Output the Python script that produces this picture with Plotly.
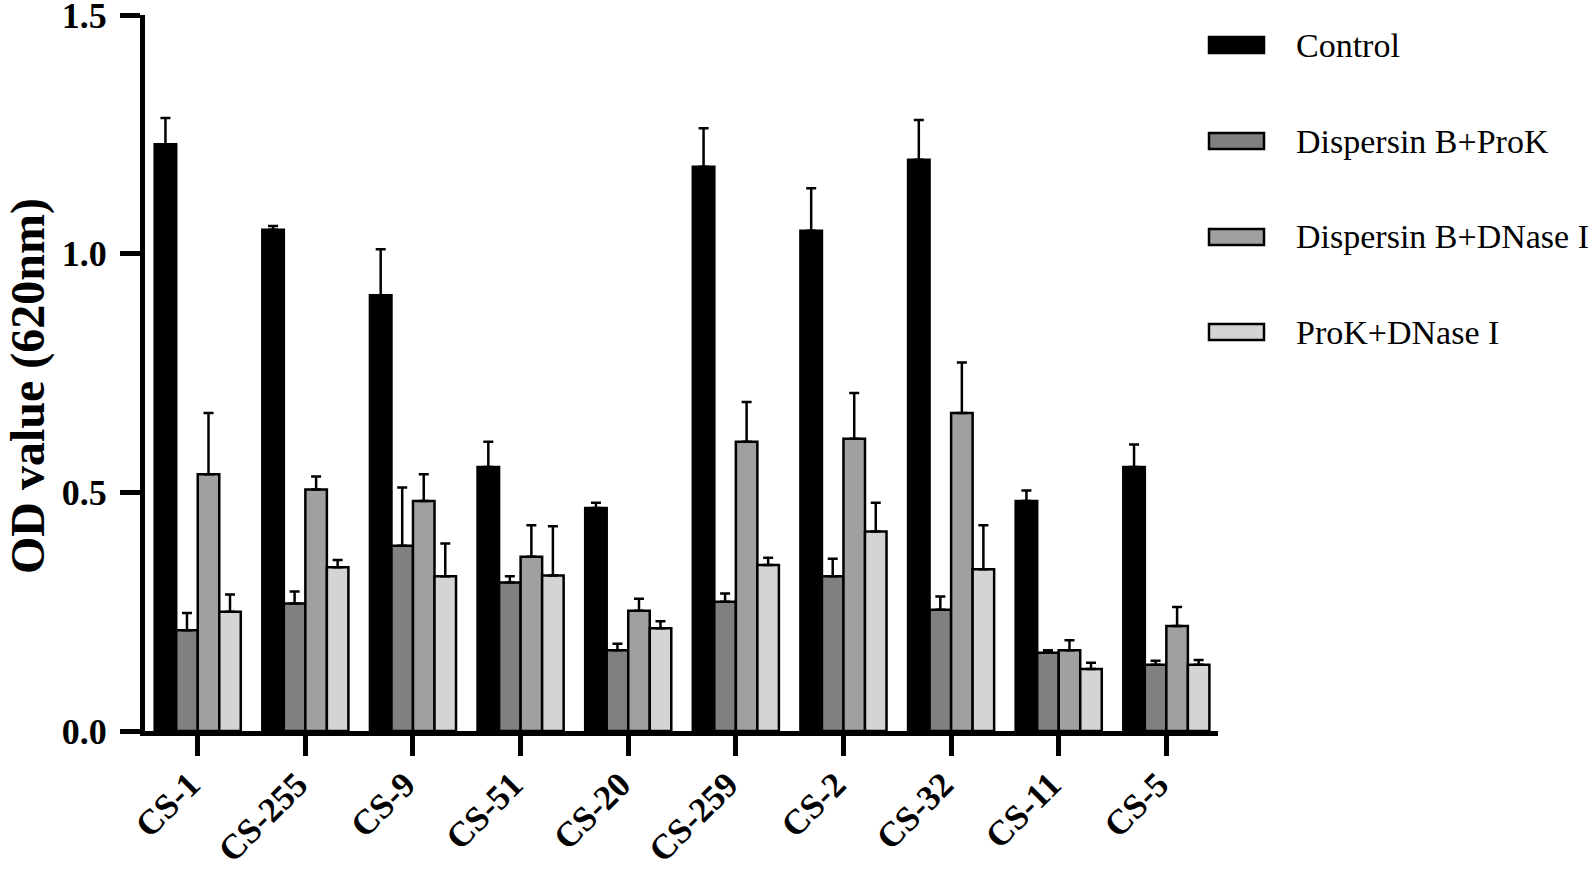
import plotly.graph_objects as go

categories = ["CS-1", "CS-255", "CS-9", "CS-51", "CS-20", "CS-259", "CS-2", "CS-32", "CS-11", "CS-5"]
series_names = ["Control", "Dispersin B+ProK", "Dispersin B+DNase I", "ProK+DNase I"]

control = [1.229, 1.050, 0.913, 0.553, 0.467, 1.182, 1.048, 1.197, 0.482, 0.553]
control_err = [0.055, 0.008, 0.096, 0.053, 0.011, 0.081, 0.089, 0.083, 0.022, 0.047]

disp_prok = [0.211, 0.267, 0.388, 0.311, 0.169, 0.271, 0.324, 0.254, 0.164, 0.139]
disp_prok_err = [0.036, 0.025, 0.122, 0.013, 0.014, 0.017, 0.037, 0.028, 0.005, 0.008]

disp_dnase = [0.538, 0.506, 0.482, 0.365, 0.252, 0.606, 0.612, 0.666, 0.169, 0.220]
disp_dnase_err = [0.128, 0.027, 0.056, 0.066, 0.025, 0.083, 0.096, 0.106, 0.021, 0.040]

prok_dnase = [0.250, 0.343, 0.324, 0.326, 0.215, 0.348, 0.418, 0.339, 0.130, 0.139]
prok_dnase_err = [0.036, 0.015, 0.069, 0.103, 0.015, 0.015, 0.060, 0.092, 0.013, 0.010]

y_ticks = [0.0, 0.5, 1.0, 1.5]
y_tick_labels = ["0.0", "0.5", "1.0", "1.5"]
y_title = "OD value (620nm)"

colors = ["#000000", "#808080", "#a0a0a0", "#d4d4d4"]
values = [control, disp_prok, disp_dnase, prok_dnase]
errors = [control_err, disp_prok_err, disp_dnase_err, prok_dnase_err]

FONT = "Liberation Serif"

fig = go.Figure()
for name, vals, errs, col in zip(series_names, values, errors, colors):
    fig.add_trace(go.Bar(
        x=categories, y=vals, name=name,
        marker=dict(color=col, line=dict(color="black", width=2.5)),
        error_y=dict(type="data", symmetric=False, array=errs,
                     arrayminus=[0] * len(errs), color="black",
                     thickness=2.5, width=5),
        showlegend=False,
    ))

# Plot area in pixels
L, R, T, B = 145, 1218, 15, 731
W, H = 1594, 870

def px_x(p):
    return (p - L) / (R - L)

def px_y(p):
    return (B - p) / (B - T)

legend_y = [45, 141, 237, 332]
for name, col, ly in zip(series_names, colors, legend_y):
    fig.add_shape(type="rect", xref="paper", yref="paper",
                  x0=px_x(1209), x1=px_x(1264), y0=px_y(ly + 8), y1=px_y(ly - 8),
                  fillcolor=col, line=dict(color="black", width=2.5))
    fig.add_annotation(xref="paper", yref="paper", x=px_x(1294), y=px_y(ly),
                       text=name, showarrow=False, xanchor="left", yanchor="middle",
                       font=dict(family=FONT, size=34, color="black"))

# y-axis title
fig.add_annotation(xref="paper", yref="paper", x=px_x(28), y=px_y(386),
                   text=y_title, textangle=-90, showarrow=False,
                   xanchor="center", yanchor="middle",
                   font=dict(family=FONT, size=48, weight="bold", color="black"))

fig.update_layout(
    width=W, height=H,
    margin=dict(l=L, r=W - R, t=T, b=H - B, pad=0, autoexpand=False),
    paper_bgcolor="white", plot_bgcolor="white",
    barmode="group", bargap=0.2, bargroupgap=0,
    showlegend=False,
    font=dict(family=FONT, color="black"),
)
fig.update_xaxes(
    type="category", range=[-0.49, 9.48], automargin=False,
    showline=True, linecolor="black", linewidth=5,
    ticks="outside", ticklen=20, tickwidth=5, tickcolor="black",
    tickangle=-45, tickfont=dict(family=FONT, size=35, weight="bold", color="black"),
    ticklabelshift=-8, ticklabelstandoff=-6,
    showgrid=False, zeroline=False,
)
fig.update_yaxes(
    range=[0, 1.5], tickvals=y_ticks, ticktext=y_tick_labels, automargin=False,
    showline=True, linecolor="black", linewidth=5,
    ticks="outside", ticklen=20, tickwidth=5, tickcolor="black",
    tickfont=dict(family=FONT, size=36, weight="bold", color="black"),
    ticklabelstandoff=6, ticklabeloverflow="allow",
    showgrid=False, zeroline=False,
)

fig.write_html("out.html", config={"displayModeBar": False},
               post_script="document.body.style.margin='0px';document.body.style.overflow='hidden';")
